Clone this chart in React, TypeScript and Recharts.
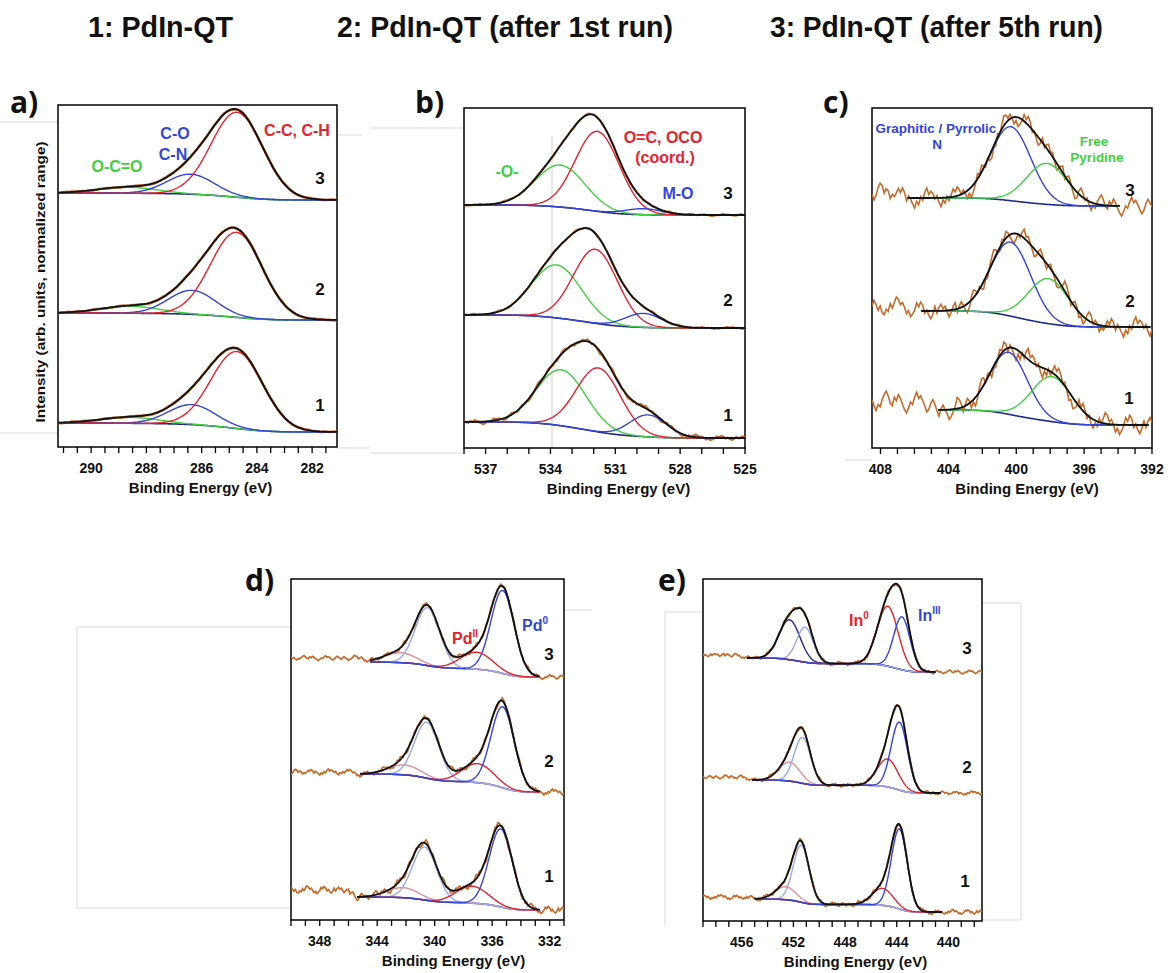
import React from 'react';
import { LineChart, Line, XAxis, YAxis, ReferenceArea } from 'recharts';

// ---- palette -------------------------------------------------------------
const RED = '#e3242b';
const BLUE = '#3346d8';
const GREEN = '#3fcf3f';
const NAVY = '#1f2a8f';
const LIGHT_BLUE = '#9aa7ef';
const PINK = '#e48d9b';
const RAW = '#c56b28';
const FIT = '#111111';

type Peak = { c: number; h: number; w: number; color: string };
type Spectrum = {
  id: string;
  lo: number; // background level at the low binding-energy end
  hi: number; // background level at the high binding-energy end
  fit: [number, number];
  tail: number; // raw level above the background beyond the fitted range
  noise: number;
  peaks: Peak[];
};

// ---- C 1s ---------------------------------------------------------------
const C1S_MAJOR_TICKS = [282, 284, 286, 288, 290];
const C1S_SPECTRA: Spectrum[] = [
  { id: '1', lo: 15, hi: 24, fit: [281.1, 291.2], tail: 0, noise: 0.5,
    peaks: [{ c: 288.6, h: 6, w: 2.5, color: GREEN }, { c: 286.35, h: 20, w: 2.0, color: BLUE }, { c: 284.72, h: 77, w: 2.2, color: RED }] },
  { id: '2', lo: 127, hi: 134, fit: [281.1, 291.2], tail: 0, noise: 0.5,
    peaks: [{ c: 288.6, h: 7, w: 2.5, color: GREEN }, { c: 286.35, h: 24, w: 2.0, color: BLUE }, { c: 284.74, h: 85, w: 2.2, color: RED }] },
  { id: '3', lo: 247, hi: 254, fit: [281.1, 291.2], tail: 0, noise: 0.5,
    peaks: [{ c: 288.7, h: 6, w: 2.5, color: GREEN }, { c: 286.4, h: 20, w: 2.0, color: BLUE }, { c: 284.72, h: 85, w: 2.2, color: RED }] },
];

// ---- O 1s ---------------------------------------------------------------
const O1S_MAJOR_TICKS = [525, 528, 531, 534, 537];
const O1S_SPECTRA: Spectrum[] = [
  { id: '1', lo: 10, hi: 26, fit: [525, 538], tail: 0, noise: 2.5,
    peaks: [{ c: 533.5, h: 56, w: 2.7, color: GREEN }, { c: 531.78, h: 64, w: 2.4, color: RED }, { c: 529.48, h: 22, w: 2.0, color: BLUE }] },
  { id: '2', lo: 120, hi: 133, fit: [525, 538], tail: 0, noise: 1.0,
    peaks: [{ c: 533.72, h: 53, w: 2.7, color: GREEN }, { c: 531.92, h: 74, w: 2.4, color: RED }, { c: 529.7, h: 14, w: 2.0, color: BLUE }] },
  { id: '3', lo: 233, hi: 243, fit: [525, 538], tail: 0, noise: 1.0,
    peaks: [{ c: 533.55, h: 42, w: 2.7, color: GREEN }, { c: 531.83, h: 80, w: 2.4, color: RED }, { c: 529.7, h: 6, w: 2.0, color: BLUE }] },
];

// ---- N 1s ---------------------------------------------------------------
const N1S_MAJOR_TICKS = [392, 396, 400, 404, 408];
const N1S_SPECTRA: Spectrum[] = [
  { id: '1', lo: 23, hi: 38, fit: [392.2, 404.6], tail: 8, noise: 11,
    peaks: [{ c: 400.45, h: 62, w: 2.6, color: BLUE }, { c: 397.9, h: 45, w: 2.8, color: GREEN }] },
  { id: '2', lo: 121, hi: 137, fit: [392.1, 405.6], tail: 4, noise: 10,
    peaks: [{ c: 400.33, h: 74, w: 2.8, color: BLUE }, { c: 398.1, h: 45, w: 2.8, color: GREEN }] },
  { id: '3', lo: 242, hi: 250, fit: [393.9, 406.4], tail: 6, noise: 10,
    peaks: [{ c: 400.33, h: 74, w: 2.8, color: BLUE }, { c: 398.2, h: 41, w: 2.8, color: GREEN }] },
];

// ---- Pd 3d --------------------------------------------------------------
const PD3D_MAJOR_TICKS = [332, 336, 340, 344, 348];
const PD3D_SPECTRA: Spectrum[] = [
  { id: '1', lo: 10, hi: 23, fit: [332.7, 345.4], tail: 7, noise: 4,
    peaks: [{ c: 342.2, h: 10, w: 2.6, color: PINK }, { c: 340.7, h: 53, w: 2.0, color: LIGHT_BLUE }, { c: 337.4, h: 17, w: 2.6, color: RED }, { c: 335.4, h: 78, w: 1.9, color: BLUE }] },
  { id: '2', lo: 128, hi: 146, fit: [332.7, 345.2], tail: 2, noise: 3,
    peaks: [{ c: 342.1, h: 10, w: 2.6, color: PINK }, { c: 340.55, h: 56, w: 2.0, color: LIGHT_BLUE }, { c: 337.0, h: 19, w: 2.6, color: RED }, { c: 335.27, h: 81, w: 1.9, color: BLUE }] },
  { id: '3', lo: 243, hi: 258, fit: [332.7, 344.5], tail: 4, noise: 2.5,
    peaks: [{ c: 342.4, h: 10, w: 2.6, color: PINK }, { c: 340.5, h: 58, w: 2.0, color: LIGHT_BLUE }, { c: 337.1, h: 17, w: 2.6, color: RED }, { c: 335.27, h: 83, w: 1.9, color: BLUE }] },
];

// ---- In 3d --------------------------------------------------------------
const IN3D_MAJOR_TICKS = [440, 444, 448, 452, 456];
const IN3D_SPECTRA: Spectrum[] = [
  { id: '1', lo: 9, hi: 22, fit: [440.5, 455.0], tail: 2, noise: 2.5,
    peaks: [{ c: 452.6, h: 13, w: 1.9, color: PINK }, { c: 451.4, h: 57, w: 1.45, color: LIGHT_BLUE }, { c: 445.1, h: 17, w: 1.9, color: RED }, { c: 443.8, h: 80, w: 1.45, color: BLUE }] },
  { id: '2', lo: 128, hi: 141, fit: [440.6, 455.2], tail: 3, noise: 2,
    peaks: [{ c: 452.3, h: 19, w: 1.9, color: PINK }, { c: 451.3, h: 46, w: 1.5, color: LIGHT_BLUE }, { c: 444.7, h: 28, w: 1.9, color: RED }, { c: 443.8, h: 68, w: 1.5, color: BLUE }] },
  { id: '3', lo: 249, hi: 263, fit: [441.0, 455.6], tail: 3, noise: 2,
    peaks: [{ c: 452.3, h: 40, w: 1.9, color: NAVY }, { c: 451.1, h: 35, w: 1.5, color: LIGHT_BLUE }, { c: 444.7, h: 60, w: 1.9, color: RED }, { c: 443.6, h: 53, w: 1.5, color: BLUE }] },
];

// measured residuals of the raw counts around the fit envelope (ninths of the noise level)
const RESIDUALS = [
  2, 6, 3, -2, 4, -3, -7, -4, 1, -2, 5, 8, 3, 6, -1, -5, -8, -3, -6, 0,
  4, 2, 7, 9, 4, -1, 3, -4, -2, -7, -5, 1, -3, 2, 6, 1, 5, -2, -6, -9,
  -4, -7, -1, 3, 0, 5, 8, 4, 7, 2, -3, 1, -5, -2, -8, -4, 2, -1, 4, 6,
  3, 9, 5, -2, 1, -6, -3, -9, -5, -1, 2, -3, 4, 7, 2, 5, 0, -4, -2, -6,
  1, 3, -1, 6, 8, 4, -3, -7, -2, -5, 2, 5, 1, -4, 3, 7, 9, 2, -2, -6,
  -8, -3, 0, 4, 1, -5, -1, 3, 6, 2, -4, -7, -3, 1, 5, 3, 8, 4, -2, 0,
  -5, -9, -6, -2, 3, 6, 1, 4, -3, -1, 5, 9, 6, 2, -4, -2, -7, -3, 2, -1,
  4, 7, 3, -5, -8, -4, 1, 5, 2, -3, 6, 3, -2, -6, -1, 4,
];

// ---- peak model ---------------------------------------------------------
const erf = (v: number) => {
  const s = Math.sign(v);
  const a = Math.abs(v);
  const t = 1 / (1 + 0.3275911 * a);
  const y = 1 - ((((1.061405429 * t - 1.453152027) * t + 1.421413741) * t - 0.284496736) * t + 0.254829592) * t * Math.exp(-a * a);
  return s * y;
};
const sigmaOf = (p: Peak) => p.w / 2.3548;
const gauss = (p: Peak, x: number) => p.h * Math.exp(-((x - p.c) ** 2) / (2 * sigmaOf(p) ** 2));

// Shirley-type step: grows with the peak area lying below x (in binding energy)
const shirley = (s: Spectrum, x: number) => {
  let num = 0;
  let den = 0;
  s.peaks.forEach((p) => {
    const a = p.h * sigmaOf(p);
    den += a;
    num += a * 0.5 * (1 + erf((x - p.c) / (sigmaOf(p) * Math.SQRT2)));
  });
  return s.lo + ((s.hi - s.lo) * num) / den;
};
const envelope = (s: Spectrum, x: number) => s.peaks.reduce((acc, p) => acc + gauss(p, x), shirley(s, x));

const grid = (a: number, b: number, step: number) => {
  const n = Math.round((b - a) / step);
  const out: number[] = [];
  for (let k = 0; k <= n; k++) out.push(a + ((b - a) * k) / n);
  return out;
};

const FONT = "'Liberation Sans', Arial, Helvetica, sans-serif";

type Box = { x: number; y: number; w: number; h: number };

const EnergyTick = (props: any) => {
  const { x, y, payload, majors } = props;
  const major = majors.some((m: number) => Math.abs(m - payload.value) < 1e-6);
  return (
    <g>
      <line x1={x} x2={x} y1={y} y2={y + 6} stroke="#000" strokeWidth={1.3} />
      {major && (
        <text x={x} y={y + 26} textAnchor="middle" fontSize={14} fontWeight="bold" fontFamily={FONT} fill="#111">
          {payload.value}
        </text>
      )}
    </g>
  );
};

function SpectraPanel(props: {
  spectra: Spectrum[];
  domain: [number, number];
  majors: number[];
  minorStep: number;
  box: Box;
  rawStep: number;
  rawWidth: number;
}) {
  const { spectra, domain, majors, minorStep, box, rawStep, rawWidth } = props;
  const [x0, x1] = domain;
  const ticks: number[] = [];
  const first = Math.ceil((x0 - 1e-9) / minorStep);
  const last = Math.floor((x1 + 1e-9) / minorStep);
  for (let k = first; k <= last; k++) ticks.push(+(k * minorStep).toFixed(3));

  const series: React.ReactNode[] = [];
  spectra.forEach((s, si) => {
    const fitX = grid(s.fit[0], s.fit[1], 0.05);
    const rawX = grid(x0, x1, rawStep);
    const rawData = rawX.map((x, k) => {
      const ramp = Math.max(0, Math.min(1, (x - s.fit[1]) / 0.8));
      const r = RESIDUALS[(k + si * 53) % RESIDUALS.length] / 9;
      return { x, y: envelope(s, x) + s.tail * ramp + r * s.noise };
    });
    const common = { xAxisId: 'b', yAxisId: 'v', dataKey: 'y', dot: false, isAnimationActive: false, type: 'linear' as const, activeDot: false };
    series.push(<Line key={`raw-${s.id}`} {...common} data={rawData} stroke={RAW} strokeWidth={rawWidth} />);
    series.push(
      <Line key={`bg-${s.id}`} {...common} data={fitX.map((x) => ({ x, y: shirley(s, x) }))} stroke={NAVY} strokeWidth={1.6} />
    );
    s.peaks.forEach((p, pi) => {
      series.push(
        <Line
          key={`pk-${s.id}-${pi}`}
          {...common}
          data={fitX.map((x) => ({ x, y: shirley(s, x) + gauss(p, x) }))}
          stroke={p.color}
          strokeWidth={1.4}
        />
      );
    });
    series.push(
      <Line key={`env-${s.id}`} {...common} data={fitX.map((x) => ({ x, y: envelope(s, x) }))} stroke={FIT} strokeWidth={1.8} />
    );
  });

  return (
    <div style={{ position: 'absolute', left: box.x - 20, top: box.y - 5 }}>
      <LineChart width={box.w + 40} height={box.h + 44} margin={{ top: 5, right: 20, bottom: 5, left: 20 }}>
        <XAxis
          xAxisId="b"
          type="number"
          dataKey="x"
          domain={[x0, x1]}
          reversed
          allowDataOverflow
          ticks={ticks}
          interval={0}
          tickSize={0}
          tickMargin={0}
          tickLine={false}
          tick={(tp: any) => <EnergyTick {...tp} majors={majors} />}
          axisLine={false}
          height={34}
        />
        <YAxis yAxisId="v" type="number" domain={[0, box.h]} allowDataOverflow hide width={0} />
        {series}
        <ReferenceArea
          xAxisId="b"
          yAxisId="v"
          x1={x0}
          x2={x1}
          y1={0}
          y2={box.h}
          fill="none"
          fillOpacity={0}
          stroke="#000"
          strokeWidth={1.5}
          strokeOpacity={1}
          ifOverflow="visible"
        />
      </LineChart>
    </div>
  );
}

const Txt = (p: { x: number; y: number; s: number; c?: string; a?: 'start' | 'middle' | 'end'; f?: string; children: React.ReactNode }) => (
  <text x={p.x} y={p.y} fontSize={p.s} fill={p.c ?? '#111'} textAnchor={p.a ?? 'middle'} fontWeight="bold" fontFamily={p.f ?? FONT}>
    {p.children}
  </text>
);

export default function App() {
  const titleFont = "'Liberation Sans Narrow', 'Liberation Sans', Arial, sans-serif";
  const letterFont = "'Open Sans', 'Liberation Sans', sans-serif";
  const faint = '#d9d9d9';
  return (
    <div style={{ position: 'absolute', left: 0, top: 0, width: 1168, height: 973, background: '#fff', overflow: 'hidden' }}>
      {/* light page guides */}
      <svg width={1168} height={973} style={{ position: 'absolute', left: 0, top: 0 }}>
        <g stroke={faint} strokeWidth={1} fill="none">
          <line x1={0} y1={122} x2={58} y2={122} />
          <line x1={0} y1={433} x2={58} y2={433} />
          <line x1={337} y1={135} x2={362} y2={135} />
          <line x1={337} y1={448} x2={370} y2={448} />
          <line x1={370} y1={128} x2={463} y2={128} />
          <line x1={370} y1={453} x2={463} y2={453} />
          <line x1={552} y1={136} x2={552} y2={448} stroke="#cfcfcf" />
          <line x1={845} y1={460} x2={872} y2={460} />
          <line x1={77} y1={627} x2={290} y2={627} />
          <line x1={77} y1={627} x2={77} y2={908} />
          <line x1={77} y1={908} x2={290} y2={908} />
          <line x1={564} y1={610} x2={592} y2={610} />
          <line x1={665} y1={612} x2={703} y2={612} />
          <line x1={665} y1={612} x2={665} y2={926} />
          <line x1={982} y1={603} x2={1021} y2={603} />
          <line x1={1021} y1={603} x2={1021} y2={920} />
          <line x1={982} y1={920} x2={1021} y2={920} />
        </g>
      </svg>

      <SpectraPanel spectra={C1S_SPECTRA} domain={[281.1, 291.2]} majors={C1S_MAJOR_TICKS} minorStep={0.5} box={{ x: 58, y: 105, w: 279, h: 342 }} rawStep={0.1} rawWidth={2.6} />
      <SpectraPanel spectra={O1S_SPECTRA} domain={[525, 538]} majors={O1S_MAJOR_TICKS} minorStep={1} box={{ x: 464, y: 108, w: 281, h: 340 }} rawStep={0.1} rawWidth={2} />
      <SpectraPanel spectra={N1S_SPECTRA} domain={[392, 408.5]} majors={N1S_MAJOR_TICKS} minorStep={1} box={{ x: 872, y: 108, w: 280, h: 340 }} rawStep={0.12} rawWidth={1.6} />
      <SpectraPanel spectra={PD3D_SPECTRA} domain={[331, 350]} majors={PD3D_MAJOR_TICKS} minorStep={1} box={{ x: 291, y: 579, w: 273, h: 341 }} rawStep={0.1} rawWidth={1.7} />
      <SpectraPanel spectra={IN3D_SPECTRA} domain={[437.4, 459]} majors={IN3D_MAJOR_TICKS} minorStep={1} box={{ x: 703, y: 579, w: 279, h: 342 }} rawStep={0.1} rawWidth={1.7} />

      <svg width={1168} height={973} style={{ position: 'absolute', left: 0, top: 0, pointerEvents: 'none' }}>
        {/* sample titles */}
        <text x={88} y={37} fontSize={30} fontWeight="bold" fontFamily={titleFont} textLength={145} lengthAdjust="spacingAndGlyphs" fill="#111">1: PdIn-QT</text>
        <text x={337} y={37} fontSize={30} fontWeight="bold" fontFamily={titleFont} textLength={336} lengthAdjust="spacingAndGlyphs" fill="#111">2: PdIn-QT (after 1st run)</text>
        <text x={770} y={37} fontSize={30} fontWeight="bold" fontFamily={titleFont} textLength={333} lengthAdjust="spacingAndGlyphs" fill="#111">3: PdIn-QT (after 5th run)</text>

        {/* panel letters */}
        <Txt x={10} y={113} s={30} a="start" f={letterFont}>a)</Txt>
        <Txt x={415} y={113} s={30} a="start" f={letterFont}>b)</Txt>
        <Txt x={823} y={113} s={30} a="start" f={letterFont}>c)</Txt>
        <Txt x={245} y={591} s={30} a="start" f={letterFont}>d)</Txt>
        <Txt x={658} y={591} s={30} a="start" f={letterFont}>e)</Txt>

        {/* intensity axis title */}
        <text x={45} y={282} transform="rotate(-90 45 282)" fontSize={13} fontWeight="bold" fontFamily={FONT} textAnchor="middle" textLength={281} lengthAdjust="spacingAndGlyphs" fill="#111">
          Intensity (arb. units, normalized range)
        </text>

        {/* energy axis titles */}
        <Txt x={200.5} y={493} s={15}>Binding Energy (eV)</Txt>
        <Txt x={618.5} y={494} s={15}>Binding Energy (eV)</Txt>
        <Txt x={1027} y={494} s={15}>Binding Energy (eV)</Txt>
        <Txt x={453.5} y={966} s={15}>Binding Energy (eV)</Txt>
        <Txt x={855.5} y={967} s={15}>Binding Energy (eV)</Txt>

        {/* spectrum numbers */}
        <Txt x={320} y={184} s={17}>3</Txt>
        <Txt x={320} y={295} s={17}>2</Txt>
        <Txt x={320} y={411} s={17}>1</Txt>
        <Txt x={728} y={199} s={17}>3</Txt>
        <Txt x={728} y={306} s={17}>2</Txt>
        <Txt x={728} y={421} s={17}>1</Txt>
        <Txt x={1130} y={196} s={17}>3</Txt>
        <Txt x={1130} y={307} s={17}>2</Txt>
        <Txt x={1129} y={404} s={17}>1</Txt>
        <Txt x={549} y={660} s={17}>3</Txt>
        <Txt x={549} y={767} s={17}>2</Txt>
        <Txt x={549} y={882} s={17}>1</Txt>
        <Txt x={967} y={654} s={17}>3</Txt>
        <Txt x={967} y={773} s={17}>2</Txt>
        <Txt x={965} y={887} s={17}>1</Txt>

        {/* component labels */}
        <Txt x={175} y={139} s={16} c={BLUE}>C-O</Txt>
        <Txt x={173} y={160} s={16} c={BLUE}>C-N</Txt>
        <Txt x={297} y={136} s={16} c={RED}>C-C, C-H</Txt>
        <Txt x={117} y={172} s={16} c={GREEN}>O-C=O</Txt>

        <Txt x={663} y={143} s={16} c={RED}>O=C, OCO</Txt>
        <Txt x={665} y={163} s={16} c={RED}>(coord.)</Txt>
        <Txt x={507} y={177} s={16} c={GREEN}>-O-</Txt>
        <Txt x={678} y={199} s={16} c={BLUE}>M-O</Txt>

        <Txt x={936} y={133} s={13.5} c={BLUE}>Graphitic / Pyrrolic</Txt>
        <Txt x={937} y={149} s={13.5} c={BLUE}>N</Txt>
        <Txt x={1094} y={146} s={13.5} c={GREEN}>Free</Txt>
        <Txt x={1097} y={162} s={13.5} c={GREEN}>Pyridine</Txt>

        <text x={452} y={644} fontSize={16} fontWeight="bold" fontFamily={FONT} fill={RED}>
          Pd<tspan fontSize={10} dy={-7}>II</tspan>
        </text>
        <text x={522} y={631} fontSize={16} fontWeight="bold" fontFamily={FONT} fill={BLUE}>
          Pd<tspan fontSize={10} dy={-7}>0</tspan>
        </text>
        <text x={849} y={626} fontSize={16} fontWeight="bold" fontFamily={FONT} fill={RED}>
          In<tspan fontSize={10} dy={-7}>0</tspan>
        </text>
        <text x={918} y={621} fontSize={16} fontWeight="bold" fontFamily={FONT} fill={BLUE}>
          In<tspan fontSize={10} dy={-7}>III</tspan>
        </text>
      </svg>
    </div>
  );
}
